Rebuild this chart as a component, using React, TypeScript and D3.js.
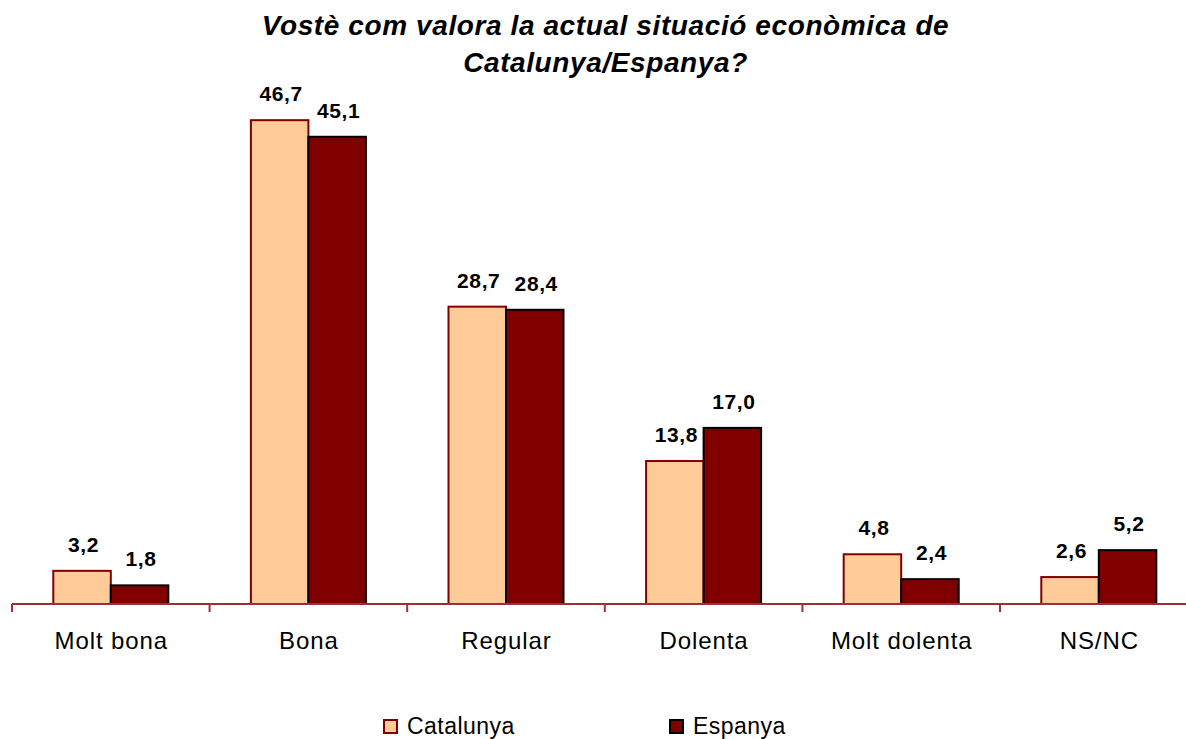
import React from "react";
import * as d3 from "d3";

const categories = ["Molt bona", "Bona", "Regular", "Dolenta", "Molt dolenta", "NS/NC"];
const seriesNames = ["Catalunya", "Espanya"];
const catalunya = [3.2, 46.7, 28.7, 13.8, 4.8, 2.6];
const espanya = [1.8, 45.1, 28.4, 17.0, 2.4, 5.2];
const titleLines = ["Vostè com valora la actual situació econòmica de", "Catalunya/Espanya?"];

const fills = ["#FFCC99", "#800000"];
const strokes = ["#800000", "#000000"];

const W = 1186;
const H = 739;
const baseY = 604;
const left = 12;
const step = 197.6;

export default function App() {
  const x0 = d3.scaleBand<string>().domain(categories).range([left, left + step * categories.length]).paddingInner(0).paddingOuter(0);
  const x1 = d3.scaleBand<string>().domain(seriesNames).range([0, x0.bandwidth()]).paddingInner(0).paddingOuter(0.718);
  const y = d3.scaleLinear().domain([0, 50]).range([baseY, baseY - 518]);
  const values = [catalunya, espanya];
  const fmt = (v: number) => d3.format(".1f")(v).replace(".", ",");
  const font = "Arial, 'Liberation Sans', Helvetica, sans-serif";

  return (
    <svg width={W} height={H} style={{ position: "absolute", left: 0, top: 0, background: "#fff" }} fontFamily={font}>
      <rect x={0} y={0} width={W} height={H} fill="#fff" />
      {titleLines.map((t, i) => (
        <text key={i} x={605.5} y={35 + i * 37} textAnchor="middle" fontSize={28} fontWeight="bold" fontStyle="italic" letterSpacing={0.6} fill="#000">
          {t}
        </text>
      ))}
      {categories.map((c, ci) => (
        <g key={c}>
          {seriesNames.map((s, si) => {
            const v = values[si][ci];
            const bx = (x0(c) as number) + (x1(s) as number);
            const bw = x1.bandwidth();
            return (
              <g key={s}>
                <rect x={bx} y={y(v)} width={bw} height={baseY - y(v)} fill={fills[si]} stroke={strokes[si]} strokeWidth={2} />
                <text x={bx + bw / 2 + 1.5} y={y(v) - 19} textAnchor="middle" fontSize={21} fontWeight="bold" letterSpacing={0.6} fill="#000">
                  {fmt(v)}
                </text>
              </g>
            );
          })}
          <text x={(x0(c) as number) + x0.bandwidth() / 2 + 0.5} y={649} textAnchor="middle" fontSize={24} letterSpacing={0.9} fill="#000">
            {c}
          </text>
        </g>
      ))}
      <line x1={left} x2={W} y1={baseY} y2={baseY} stroke="#993333" strokeWidth={2} />
      {d3.range(categories.length + 1).map((i) => {
        const tx = left + i * step;
        return <line key={i} x1={tx} x2={tx} y1={baseY} y2={baseY + 8} stroke="#993333" strokeWidth={2} />;
      })}
      {seriesNames.map((s, i) => {
        const lx = [384, 670][i];
        return (
          <g key={s}>
            <rect x={lx} y={720} width={13} height={13} fill={fills[i]} stroke={strokes[i]} strokeWidth={2} />
            <text x={lx + 23} y={734} fontSize={23} letterSpacing={0.45} fill="#000">
              {s}
            </text>
          </g>
        );
      })}
    </svg>
  );
}
